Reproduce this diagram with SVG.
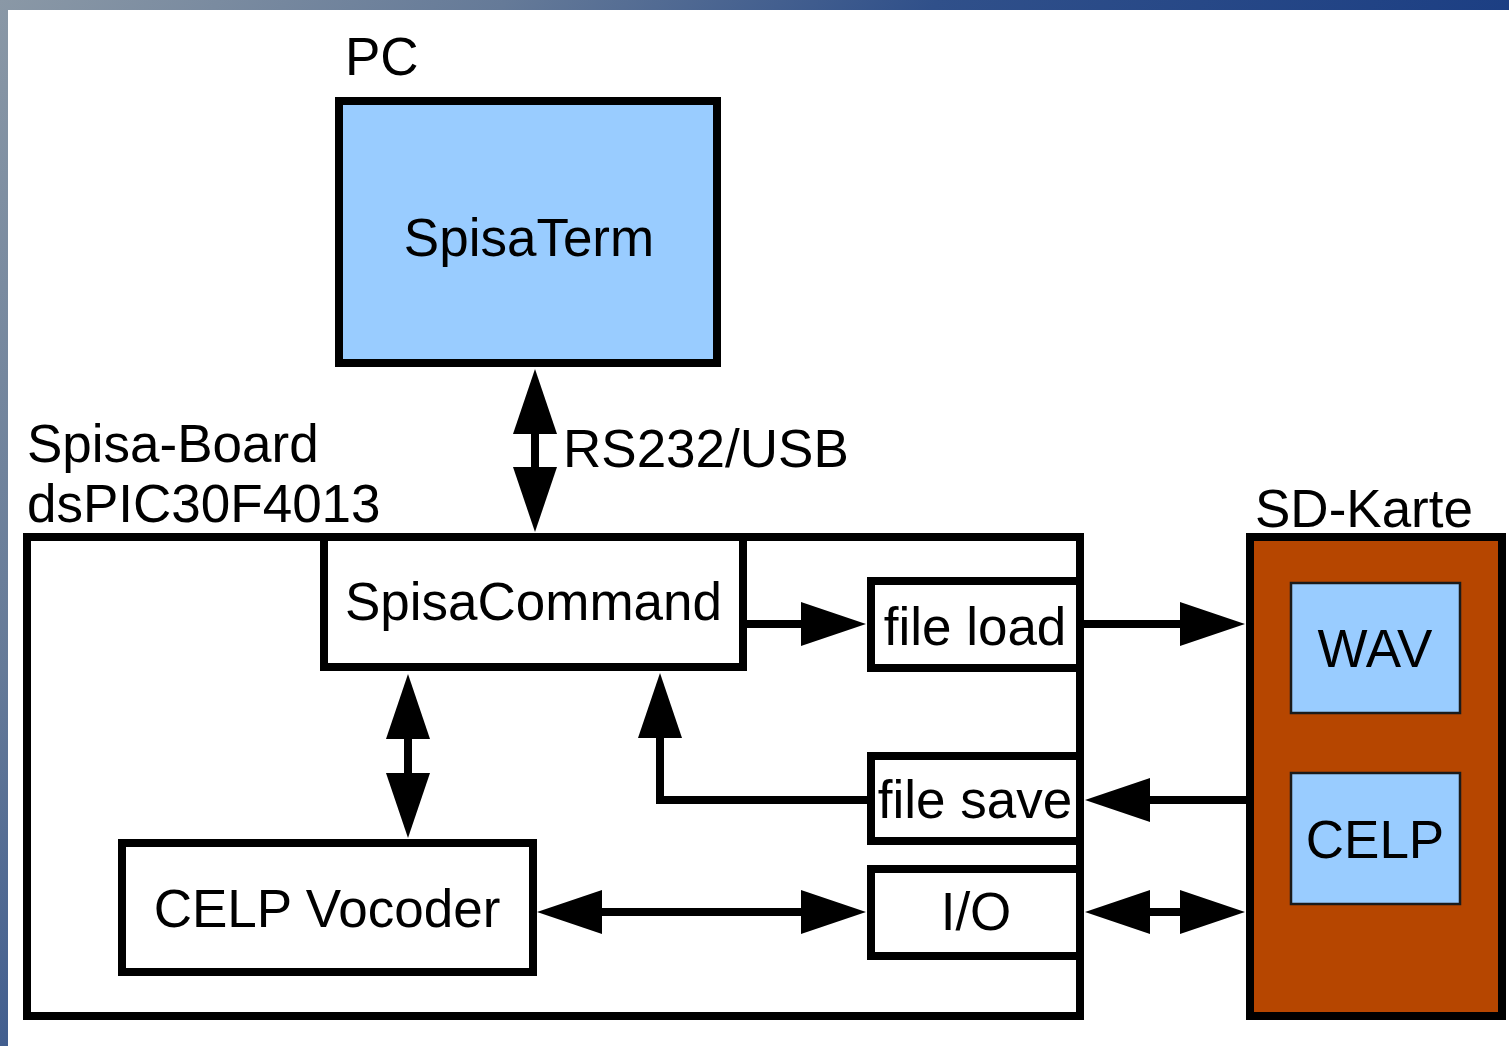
<svg xmlns="http://www.w3.org/2000/svg" width="1509" height="1046" viewBox="0 0 1509 1046">
  <style>
    .lbl { font-family: "Liberation Sans", Arial, sans-serif; font-size: 53px; fill: #000; }
    .mid { text-anchor: middle; }
    .box { fill: #fff; stroke: #000; stroke-width: 8; stroke-linejoin: miter; }
    .blue { fill: #99ccff; stroke: #000; stroke-width: 8; }
    .card { fill: #b64600; stroke: #000; stroke-width: 8; }
    .file { fill: #99ccff; stroke: #1a1a1a; stroke-width: 2.5; }
    .wire { fill: none; stroke: #000; stroke-width: 8; stroke-linejoin: miter; }
    .one { marker-end: url(#head); }
    .two { marker-start: url(#head); marker-end: url(#head); }
  </style>
  <defs>
    <linearGradient id="frame" gradientUnits="userSpaceOnUse" x1="0" y1="0" x2="1200" y2="900">
      <stop offset="0" stop-color="#8a98a6"/>
      <stop offset="0.27" stop-color="#657a98"/>
      <stop offset="0.5" stop-color="#30508a"/>
      <stop offset="1" stop-color="#10347f"/>
    </linearGradient>
    <!-- arrowhead: base at the path end, tip 65px beyond it -->
    <marker id="head" viewBox="0 0 65 44" refX="0" refY="22" markerWidth="65" markerHeight="44" markerUnits="userSpaceOnUse" orient="auto-start-reverse">
      <path d="M0,0 L65,22 L0,44 z" fill="#000"/>
    </marker>
  </defs>

  <!-- slide frame -->
  <rect x="0" y="0" width="1509" height="1046" fill="url(#frame)"/>
  <rect x="8" y="10" width="1501" height="1036" fill="#fff"/>

  <g id="pc">
    <text class="lbl" x="345" y="75">PC</text>
    <rect class="blue" x="339" y="101" width="378" height="262"/>
    <text class="lbl mid" x="529" y="256">SpisaTerm</text>
  </g>

  <g id="board">
    <text class="lbl" x="27" y="462">Spisa-Board</text>
    <text class="lbl" x="27" y="522">dsPIC30F4013</text>
    <rect class="box" x="27" y="537" width="1053" height="479"/>
  </g>

  <g id="spisacommand">
    <rect class="box" x="324" y="537" width="419" height="130"/>
    <text class="lbl mid" x="533.5" y="620">SpisaCommand</text>
  </g>

  <g id="fileload">
    <rect class="box" x="871" y="581" width="209" height="87"/>
    <text class="lbl mid" x="975" y="645">file load</text>
  </g>

  <g id="filesave">
    <rect class="box" x="871" y="756" width="209" height="85"/>
    <text class="lbl mid" x="975" y="818">file save</text>
  </g>

  <g id="io">
    <rect class="box" x="871" y="869" width="209" height="87"/>
    <text class="lbl mid" x="976" y="930">I/O</text>
  </g>

  <g id="vocoder">
    <rect class="box" x="122" y="843" width="411" height="129"/>
    <text class="lbl mid" x="327" y="927">CELP Vocoder</text>
  </g>

  <g id="sdcard">
    <text class="lbl" x="1255" y="527">SD-Karte</text>
    <rect class="card" x="1250" y="537" width="252" height="479"/>
    <rect class="file" x="1291" y="583" width="169" height="130"/>
    <text class="lbl mid" x="1375" y="667">WAV</text>
    <rect class="file" x="1291" y="773" width="169" height="131"/>
    <text class="lbl mid" x="1375" y="858">CELP</text>
  </g>

  <g id="connectors">
    <path class="wire two" d="M535,434 V467"/>
    <text class="lbl" x="563" y="467">RS232/USB</text>
    <path class="wire one" d="M747,624 H801"/>
    <path class="wire one" d="M1084,624 H1180"/>
    <path class="wire one" d="M1246,800 H1150"/>
    <path class="wire one" d="M867,800 H660 V738"/>
    <path class="wire two" d="M408,739 V773"/>
    <path class="wire two" d="M602,912 H801"/>
    <path class="wire two" d="M1150,912 H1180"/>
  </g>
</svg>
